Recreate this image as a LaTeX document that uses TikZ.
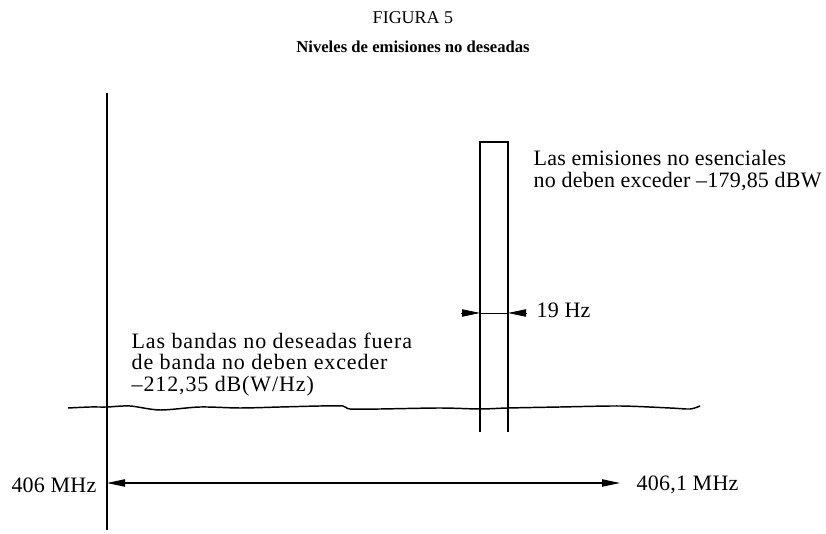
\documentclass[tikz,border=0pt]{standalone}
\usepackage{fontspec}
\setmainfont{Liberation Serif}
\usetikzlibrary{arrows.meta, positioning}

\tikzset{
  tip/.style={-{Triangle[length=13.5pt,width=5.5pt]}},
  dimarrow/.style={{Triangle[length=13.5pt,width=5.5pt]}-{Triangle[length=13.5pt,width=5.5pt]}, line width=0.8pt},
  lbl/.style={inner sep=0pt, font=\fontsize{16.5}{16.2}\selectfont\addfontfeatures{LetterSpace=1}},
  widelbl/.style={inner sep=0pt, font=\fontsize{16.5}{16.2}\selectfont\addfontfeatures{LetterSpace=4}}
}

\begin{document}
\begin{tikzpicture}[x=0.75pt, y=-0.75pt, line width=1pt]
\useasboundingbox (0,0) rectangle (826,534);
\def\rxo{480}
\def\rxt{508}
%titles
\node (fig) at (413,18) {\fontsize{13.5}{15}\selectfont FIGURA 5};
\node (tit) at (413,47) {\fontsize{12.5}{15}\selectfont\bfseries Niveles de emisiones no deseadas};
%axis
\draw[line width=1.5pt] (107,93) -- (107,530);
%spurious emission
\draw (\rxo,432) -- (\rxo,142) -- (\rxt,142) -- (\rxt,432);
%floor
\draw[line width=1.1pt] plot[smooth] coordinates {(68,408) (90,407) (107,407) (130,406) (160,410) (200,407) (240,408) (280,407) (320,406) (343,406) (350,409) (380,409) (440,408) (480,409) (508,408) (560,407) (620,406) (670,408) (690,409) (700,406)};
%19 Hz
\coordinate (wl) at (\rxo,313);
\coordinate (wr) at (\rxt,313);
\draw[line width=0.6pt] (wl) -- (wr);
\draw[tip, line width=0.6pt] (461,313) -- (wl);
\draw[tip, line width=0.6pt] (527,313) -- (wr);
\node[lbl, anchor=west] (hz) at (536,310) {19 Hz};
%labels
\node[lbl, anchor=north west, align=left] (spur) at (533,150) {Las emisiones no esenciales\\no deben exceder --179,85 dBW};
\node[widelbl, anchor=north west, align=left] (oob) at (131,332) {Las bandas no deseadas fuera\\de banda no deben exceder\\--212,35 dB(W/Hz)};
%band
\coordinate (f0) at (107,483);
\coordinate (f1) at (620,483);
\draw[dimarrow] (f0) -- (f1);
\node[lbl, anchor=east] (lo) at (97,485) {406 MHz};
\node[lbl, anchor=west] (hi) at (636,485) {406,1 MHz};
\end{tikzpicture}
\end{document}
